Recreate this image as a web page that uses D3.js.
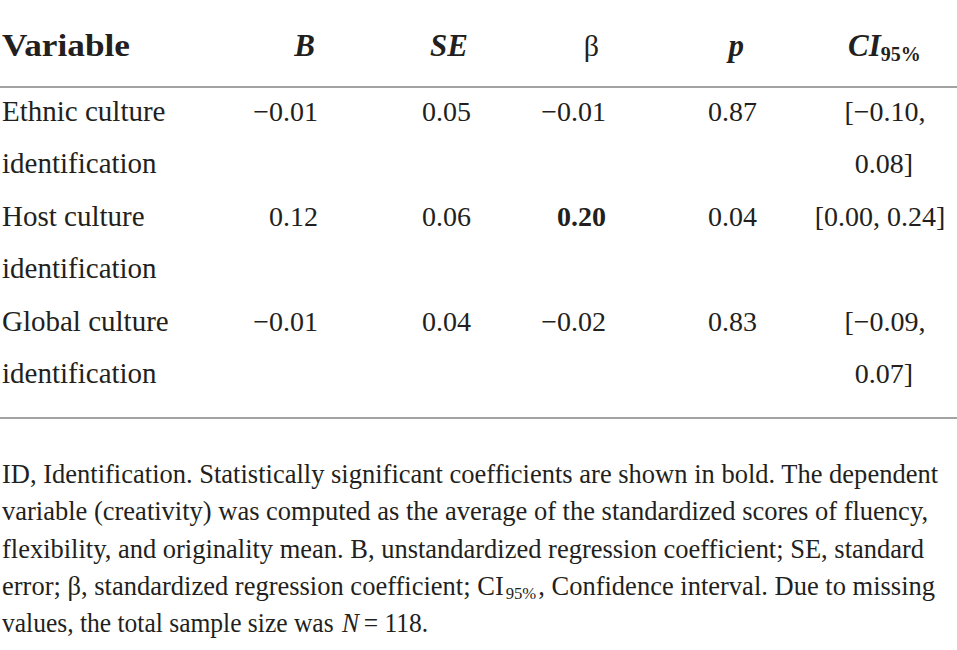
<!DOCTYPE html>
<html>
<head>
<meta charset="utf-8">
<script src="https://cdn.jsdelivr.net/npm/d3@7"></script>
<style>
  body { margin: 0; background: #fff; }
  svg { display: block; font-family: "Liberation Serif", "Times New Roman", serif; }
  g.note text { white-space: pre; }
</style>
</head>
<body>
<svg class="main" width="957" height="650"></svg>
<script>
// данные таблицы
const variables = ["Ethnic culture identification", "Host culture identification", "Global culture identification"];
const bValues = [-0.01, 0.12, -0.01];
const seValues = [0.05, 0.06, 0.04];
const betaValues = [-0.01, 0.20, -0.02];
const pValues = [0.87, 0.04, 0.83];
const ciLower = [-0.10, 0.00, -0.09];
const ciUpper = [0.08, 0.24, 0.07];
const significant = [false, true, false];

const footnote = [
    "ID, Identification. Statistically significant coefficients are shown in bold. The dependent",
    "variable (creativity) was computed as the average of the standardized scores of fluency,",
    "flexibility, and originality mean. B, unstandardized regression coefficient; SE, standard",
    "error; β, standardized regression coefficient; CI|95%|, Confidence interval. Due to missing",
    "values, the total sample size was *N*= 118."
];
const footWidths = [938, 928, 924, 935, 428];

const svg = d3.select("svg.main");
const ink = "#231f20";
const fmt = d3.format(".2f");

// положение строк
const rowY = d3.scaleLinear().domain([0, 2]).range([121, 331]);
const lineGap = 52;

// заголовок
const head = svg.append("g").attr("fill", ink);
head.append("text").attr("x", 2).attr("y", 56)
    .attr("font-size", 31).attr("font-weight", "bold")
    .attr("textLength", 128).attr("lengthAdjust", "spacingAndGlyphs")
    .text("Variable");
head.append("text").attr("x", 315).attr("y", 56).attr("text-anchor", "end")
    .attr("font-size", 31).attr("font-weight", "bold").attr("font-style", "italic")
    .text("B");
head.append("text").attr("x", 468).attr("y", 56).attr("text-anchor", "end")
    .attr("font-size", 31).attr("font-weight", "bold").attr("font-style", "italic")
    .text("SE");
head.append("text").attr("x", 599).attr("y", 56).attr("text-anchor", "end")
    .attr("font-size", 30)
    .text("β");
head.append("text").attr("x", 744).attr("y", 56).attr("text-anchor", "end")
    .attr("font-size", 31).attr("font-weight", "bold").attr("font-style", "italic")
    .text("p");
const ciHead = head.append("text").attr("x", 848).attr("y", 56)
    .attr("font-weight", "bold");
ciHead.append("tspan").attr("font-size", 31).attr("font-style", "italic").text("CI");
ciHead.append("tspan").attr("font-size", 20).attr("dy", 5).text("95%");

// линии
const rules = [87, 418];
svg.selectAll("line.rule").data(rules).join("line")
    .attr("class", "rule")
    .attr("x1", 0).attr("x2", 957)
    .attr("y1", d => d).attr("y2", d => d)
    .attr("stroke", "#a3a3a3").attr("stroke-width", 2);

// строки таблицы
const rows = svg.selectAll("g.row").data(variables).join("g")
    .attr("class", "row")
    .attr("fill", ink)
    .attr("font-size", 28)
    .attr("transform", (d, i) => `translate(0,${rowY(i)})`);

rows.each(function(name, i) {
    const g = d3.select(this);
    const cut = name.lastIndexOf(" ");
    [name.slice(0, cut), name.slice(cut + 1)].forEach((part, k) => {
        g.append("text").attr("x", 2).attr("y", k * lineGap)
            .attr("font-size", 29).text(part);
    });

    g.append("text").attr("x", 318).attr("text-anchor", "end").text(fmt(bValues[i]));
    g.append("text").attr("x", 471).attr("text-anchor", "end").text(fmt(seValues[i]));
    g.append("text").attr("x", 606).attr("text-anchor", "end")
        .attr("font-weight", significant[i] ? "bold" : null)
        .text(fmt(betaValues[i]));
    g.append("text").attr("x", 757).attr("text-anchor", "end").text(fmt(pValues[i]));

    const ci = `[${fmt(ciLower[i])}, ${fmt(ciUpper[i])}]`;
    if (ci.length > 12) {
        g.append("text").attr("x", 885).attr("text-anchor", "middle")
            .text(`[${fmt(ciLower[i])},`);
        g.append("text").attr("x", 884).attr("y", lineGap).attr("text-anchor", "middle")
            .text(`${fmt(ciUpper[i])}]`);
    } else {
        g.append("text").attr("x", 880).attr("text-anchor", "middle").text(ci);
    }
});

// примечание: |...| - индекс, *...* - курсив
// каждый кусок строки - отдельный text, чтобы не было наложений
const noteY = d3.scaleLinear().domain([0, footnote.length - 1]).range([483, 632]);
const notes = svg.selectAll("g.note").data(footnote).join("g")
    .attr("class", "note")
    .attr("fill", ink)
    .attr("font-size", 27)
    .attr("transform", (d, i) => `translate(2,${noteY(i)})`);

notes.each(function(line, i) {
    const g = d3.select(this);
    const pieces = [];
    line.split(/(\|[^|]*\||\*[^*]*\*)/).forEach(part => {
        if (!part) return;
        const t = g.append("text");
        let gap = 2;
        if (part[0] === "|") {
            t.attr("font-size", 17).attr("y", 4).text(part.slice(1, -1));
        } else if (part[0] === "*") {
            t.attr("font-style", "italic").text(part.slice(1, -1));
            gap = 5;
        } else {
            t.text(part);
        }
        pieces.push({t, w: t.node().getComputedTextLength(), gap});
    });
    const total = d3.sum(pieces, p => p.w + p.gap);
    const k = footWidths[i] / total;
    let x = 0;
    pieces.forEach(p => {
        p.t.attr("x", x)
            .attr("textLength", p.w * k)
            .attr("lengthAdjust", "spacingAndGlyphs");
        x += (p.w + p.gap) * k;
    });
});
</script>
</body>
</html>
